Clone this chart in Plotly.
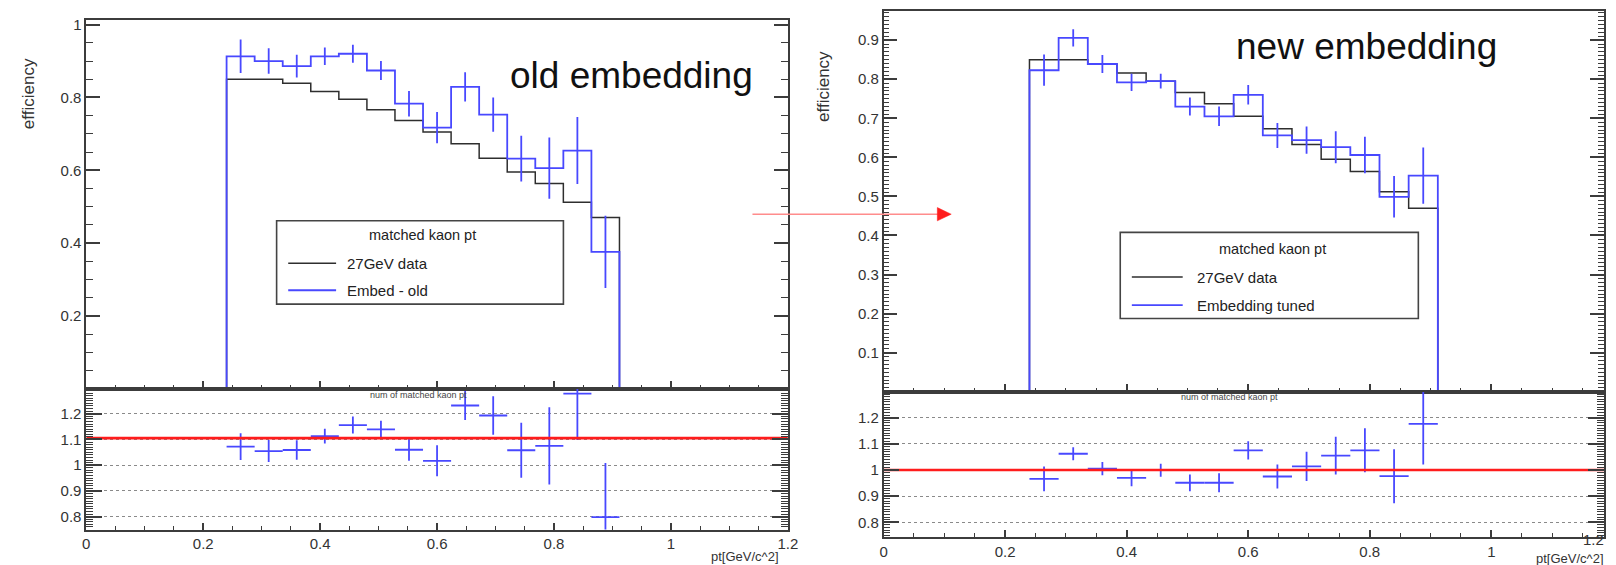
import numpy as np
import plotly.graph_objects as go

# ---- data -----------------------------------------------------------------
# pt bin edges (GeV/c), 14 filled bins
pt_edges = [0.240, 0.288, 0.336, 0.384, 0.432, 0.480, 0.528, 0.576,
            0.624, 0.672, 0.720, 0.768, 0.816, 0.864, 0.912]

# matched kaon efficiency, 27 GeV data
data_eff = [0.850, 0.850, 0.839, 0.816, 0.795, 0.766, 0.737, 0.705,
            0.673, 0.633, 0.595, 0.564, 0.512, 0.470]

# old embedding
old_eff = [0.913, 0.900, 0.886, 0.913, 0.920, 0.874, 0.783, 0.717,
           0.829, 0.753, 0.632, 0.606, 0.654, 0.376]
old_err = [0.046, 0.035, 0.031, 0.024, 0.025, 0.026, 0.035, 0.043,
           0.040, 0.047, 0.063, 0.084, 0.092, 0.099]
old_ratio = [1.072, 1.055, 1.059, 1.113, 1.156, 1.139, 1.060, 1.017,
             1.232, 1.193, 1.058, 1.075, 1.278, 0.798]
old_ratio_err = [0.052, 0.043, 0.038, 0.029, 0.033, 0.034, 0.043, 0.060,
                 0.056, 0.075, 0.107, 0.150, 0.180, 0.210]
old_level = 1.105

# tuned embedding
new_eff = [0.823, 0.906, 0.839, 0.792, 0.795, 0.730, 0.705, 0.760,
           0.656, 0.644, 0.626, 0.606, 0.499, 0.553]
new_err = [0.040, 0.022, 0.023, 0.022, 0.019, 0.023, 0.025, 0.025,
           0.032, 0.035, 0.041, 0.047, 0.053, 0.072]
new_ratio = [0.966, 1.062, 1.005, 0.970, 0.999, 0.951, 0.951, 1.075,
             0.975, 1.014, 1.055, 1.075, 0.976, 1.176]
new_ratio_err = [0.047, 0.025, 0.025, 0.032, 0.025, 0.032, 0.036, 0.035,
                 0.046, 0.056, 0.072, 0.084, 0.103, 0.155]
new_level = 1.0

eff_ticks_old = [0.2, 0.4, 0.6, 0.8, 1.0]
eff_ticks_new = [0.1, 0.2, 0.3, 0.4, 0.5, 0.6, 0.7, 0.8, 0.9]
ratio_ticks = [0.8, 0.9, 1.0, 1.1, 1.2]
pt_ticks = [0, 0.2, 0.4, 0.6, 0.8, 1.0, 1.2]

# ---- styling --------------------------------------------------------------
W, H = 1616, 565
FONT = "Liberation Sans, Arial, Helvetica, sans-serif"
AX = "#3c3c3c"
BLUE = "#4848ff"
BLACK = "#2e2e2e"
RED = "#ff1c1c"


def fx(p):
    return p / W


def fy(p):
    return 1 - p / H


edges = np.array(pt_edges)
centers = (edges[:-1] + edges[1:]) / 2
half_w = (edges[1:] - edges[:-1]) / 2


def step_xy(vals):
    xs = [edges[0]] + list(edges[:-1]) + [edges[-1]]
    ys = [0.0] + list(vals) + [0.0]
    return xs, ys


fig = go.Figure()


def add_panel(eff, err, ratio, ratio_err, level, xa_top, ya_top, xa_rat, ya_rat):
    xs, ys = step_xy(data_eff)
    fig.add_trace(go.Scatter(x=xs, y=ys, mode="lines", line_shape="hv",
                             line=dict(color=BLACK, width=1.5),
                             xaxis=xa_top, yaxis=ya_top, hoverinfo="skip"))
    xs, ys = step_xy(eff)
    fig.add_trace(go.Scatter(x=xs, y=ys, mode="lines", line_shape="hv",
                             line=dict(color=BLUE, width=1.8),
                             xaxis=xa_top, yaxis=ya_top, hoverinfo="skip"))
    fig.add_trace(go.Scatter(x=centers, y=eff, mode="markers",
                             marker=dict(size=1, color=BLUE),
                             error_y=dict(type="data", array=err, width=0,
                                          thickness=1.8, color=BLUE),
                             xaxis=xa_top, yaxis=ya_top, hoverinfo="skip"))
    fig.add_trace(go.Scatter(x=centers, y=ratio, mode="markers",
                             marker=dict(size=1, color=BLUE),
                             error_y=dict(type="data", array=ratio_err, width=0,
                                          thickness=1.8, color=BLUE),
                             error_x=dict(type="data", array=half_w, width=0,
                                          thickness=1.8, color=BLUE),
                             xaxis=xa_rat, yaxis=ya_rat, hoverinfo="skip"))
    fig.add_trace(go.Scatter(x=[0, 1.2], y=[level, level], mode="lines",
                             line=dict(color=RED, width=2.6),
                             xaxis=xa_rat, yaxis=ya_rat, hoverinfo="skip"))


add_panel(old_eff, old_err, old_ratio, old_ratio_err, old_level, "x", "y", "x2", "y2")
add_panel(new_eff, new_err, new_ratio, new_ratio_err, new_level, "x3", "y3", "x4", "y4")

tickfont = dict(family=FONT, size=15, color="#333333")


def xaxis(domain, rng, anchor, labels, ticklen, minorlen):
    return dict(domain=domain, range=rng, anchor=anchor,
                tickmode="array", tickvals=pt_ticks, showticklabels=labels,
                ticks="inside", ticklen=ticklen, tickwidth=1.5, tickcolor=AX,
                minor=dict(tickmode="linear", tick0=0, dtick=0.05, ticks="inside",
                           ticklen=minorlen, tickwidth=1.2, tickcolor=AX,
                           showgrid=False),
                showline=True, linecolor=AX, linewidth=1.6, mirror=True,
                showgrid=False, zeroline=False, tickfont=tickfont,
                fixedrange=True)


def yaxis(domain, rng, anchor, tickvals, minor_dtick, ticklen, minorlen, grid):
    return dict(domain=domain, range=rng, anchor=anchor,
                tickmode="array", tickvals=tickvals,
                ticks="inside", ticklen=ticklen, tickwidth=1.6, tickcolor=AX,
                minor=dict(tickmode="linear", tick0=0, dtick=minor_dtick,
                           ticks="inside", ticklen=minorlen, tickwidth=1.2,
                           tickcolor=AX, showgrid=False),
                showline=True, linecolor=AX, linewidth=1.6, mirror="ticks",
                showgrid=grid, griddash="dot", gridcolor="#8a8a8a", gridwidth=1,
                zeroline=False, tickfont=tickfont, fixedrange=True)


# left block: x 83..790.7 px ; top 16..387.5 ; ratio 387.5..529.3
# right block: x 887.3..1614 px ; top 7.3..390.5 ; ratio 390.5..536.7
L_dom = [fx(83), fx(790.7)]
R_dom = [fx(887.3), fx(1614)]
R_xmax = (1614 - 887.3) / 613.0

fig.update_layout(
    xaxis=xaxis(L_dom, [0, 1.2], "y", False, 8, 4),
    yaxis=yaxis([fy(387.5), fy(16)], [0, 1.013], "x", eff_ticks_old, 0.05, 14, 7, False),
    xaxis2=xaxis(L_dom, [0, 1.2], "y2", True, 7, 4),
    yaxis2=yaxis([fy(529.3), fy(387.5)], [0.7498, 1.297], "x2", ratio_ticks, 0.01, 16, 7, True),
    xaxis3=xaxis(R_dom, [0, R_xmax], "y3", False, 8, 4),
    yaxis3=yaxis([fy(390.5), fy(7.3)], [0, 0.974], "x3", eff_ticks_new, 0.01, 14, 6, False),
    xaxis4=xaxis(R_dom, [0, R_xmax], "y4", True, 7, 4),
    yaxis4=yaxis([fy(536.7), fy(390.5)], [0.744, 1.299], "x4", ratio_ticks, 0.01, 16, 7, True),
)


def note(text, x, y, size, xanchor="center", yanchor="middle", angle=0,
         color="#222222", pad=1):
    fig.add_annotation(text=text, x=fx(x), y=fy(y), xref="paper", yref="paper",
                       xanchor=xanchor, yanchor=yanchor, textangle=angle,
                       borderpad=pad, showarrow=False,
                       font=dict(family=FONT, size=size, color=color))


shapes = []


def legend_box(x0, y0, x1, y1, title_x, title_y, line_x0, line_x1, text_x, row_y, labels):
    shapes.append(dict(type="rect", xref="paper", yref="paper",
                       x0=fx(x0), x1=fx(x1), y0=fy(y1), y1=fy(y0),
                       line=dict(color="#444444", width=1.6), fillcolor="white",
                       layer="above"))
    note("matched kaon pt", title_x, title_y, 14.5)
    for (label, color, w), ry in zip(labels, row_y):
        shapes.append(dict(type="line", xref="paper", yref="paper",
                           x0=fx(line_x0), x1=fx(line_x1), y0=fy(ry), y1=fy(ry),
                           line=dict(color=color, width=w), layer="above"))
        note(label, text_x, ry, 15, xanchor="left")


legend_box(275, 218.3, 564.3, 302.3, 422, 233, 286.7, 335, 344, [261, 288.3],
           [("27GeV data", BLACK, 1.5), ("Embed - old", BLUE, 1.8)])
legend_box(1126, 230, 1426.7, 316.7, 1280, 246.7, 1137.7, 1189, 1201.7, [275, 303.3],
           [("27GeV data", BLACK, 1.5), ("Embedding tuned", BLUE, 1.8)])

# arrow between the two blocks
shapes.append(dict(type="line", xref="paper", yref="paper",
                   x0=fx(755), x1=fx(943), y0=fy(211.7), y1=fy(211.7),
                   line=dict(color="#ff8c8c", width=1.6), layer="above"))
shapes.append(dict(type="path", xref="paper", yref="paper",
                   path=f"M {fx(941.5)} {fy(205)} L {fx(955.5)} {fy(211.7)} L {fx(941.5)} {fy(218.4)} Z",
                   line=dict(color=RED, width=0.5), fillcolor=RED, layer="above"))

fig.update_layout(shapes=shapes)

# panel texts
note("old embedding", 632.5, 72, 37, color="#111111")
note("new embedding", 1374, 42.5, 37, color="#111111")
note("efficiency", 25, 90, 17, angle=-90, color="#333333")
note("efficiency", 826.7, 83, 17, angle=-90, color="#333333")
note("num of matched kaon pt", 418, 394, 9, color="#444444")
note("num of matched kaon pt", 1236.7, 396, 9, color="#444444")
note("pt[GeV/c^2]", 784, 556, 13, xanchor="right", color="#333333")
note("pt[GeV/c^2]", 1615, 549.5, 13, xanchor="right", yanchor="top",
     color="#333333", pad=0)
note("1.2", 1615, 549, 15, xanchor="right", yanchor="bottom",
     color="#333333", pad=0)

fig.update_layout(width=W, height=H, margin=dict(l=0, r=0, t=0, b=0),
                  paper_bgcolor="white", plot_bgcolor="white", showlegend=False)

fig.write_html("out.html")
